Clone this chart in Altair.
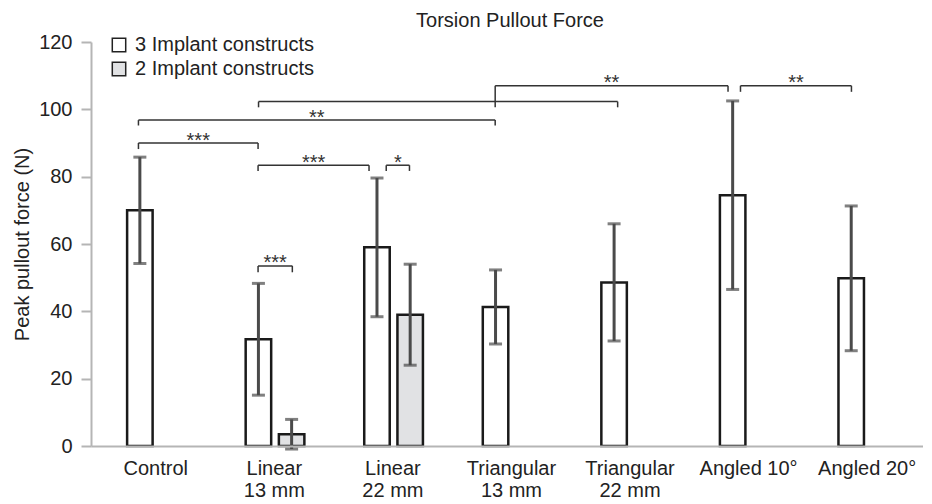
import json
import altair as alt
import pandas as pd

FONT = "Liberation Sans"

# ---------------- data ----------------
categories = ["Control", "Linear\n13 mm", "Linear\n22 mm", "Triangular\n13 mm",
              "Triangular\n22 mm", "Angled 10°", "Angled 20°"]
series_names = ["3 Implant constructs", "2 Implant constructs"]

three_mean = [70.0, 31.7, 59.0, 41.3, 48.6, 74.5, 49.8]
three_sd = [15.8, 16.6, 20.6, 11.0, 17.4, 28.0, 21.5]
two_mean = [None, 3.5, 39.0, None, None, None, None]
two_sd = [None, 4.4, 15.0, None, None, None, None]

# significance brackets (x in category units, y in N)
br_x1 = [0.358, 0.358, 1.371, 3.367, 5.436, 1.367, 2.448, 1.367]
br_x2 = [1.367, 3.367, 4.400, 5.331, 6.372, 2.303, 2.644, 1.656]
br_y = [90.0, 96.8, 102.3, 107.0, 107.0, 83.4, 83.4, 53.5]
br_left_end = [88.2, 95.2, 100.6, 100.6, 105.2, 81.7, 81.7, 51.6]
br_right_end = [88.2, 95.2, 100.6, 105.2, 105.2, 81.7, 81.7, 51.6]
br_label = ["***", "**", "", "**", "**", "***", "*", "***"]

# ---------------- table building ----------------
slot = {series_names[0]: -0.13, series_names[1]: 0.15}
rows = []
for i, c in enumerate(categories):
    for s, m, sd in ((series_names[0], three_mean[i], three_sd[i]),
                     (series_names[1], two_mean[i], two_sd[i])):
        if m is None:
            continue
        rows.append({"cat": c, "series": s, "x": i + 0.5 + slot[s],
                     "mean": m, "lo": m - sd, "hi": m + sd})
bars = pd.DataFrame(rows)

seg = []
for a, b, y, l, r in zip(br_x1, br_x2, br_y, br_left_end, br_right_end):
    seg.append({"x": a, "x2": b, "y": y, "y2": y})
    seg.append({"x": a, "x2": a, "y": y, "y2": l})
    seg.append({"x": b, "x2": b, "y": y, "y2": r})
segs = pd.DataFrame(seg)
labels = pd.DataFrame({"x": [(a + b) / 2 for a, b in zip(br_x1, br_x2)],
                       "y": br_y, "t": br_label})

label_expr = "split(" + json.dumps(categories) + "[floor(datum.value)], '\\n')"

PLOT_W = 832
STEP = 120  # pixels per category
xscale = alt.Scale(domain=[0, PLOT_W / STEP], nice=False, zero=False)
yscale = alt.Scale(domain=[0, 120], nice=False)

x_axis = alt.Axis(values=[i + 0.5 for i in range(len(categories))], labelExpr=label_expr,
                  ticks=False, grid=False, title=None, domainColor="#b5b5b5", domainWidth=2,
                  labelFontSize=20, labelFont=FONT, labelColor="#222222", labelPadding=12,
                  labelLineHeight=22, labelAngle=0, zindex=1)
y_axis = alt.Axis(values=list(range(0, 121, 20)), grid=False, title="Peak pullout force (N)",
                  domainColor="#b5b5b5", domainWidth=2, tickColor="#b5b5b5", tickWidth=2,
                  tickSize=10, labelFontSize=20, labelFont=FONT, labelColor="#222222",
                  labelPadding=9, titleFontSize=20, titleFont=FONT, titleFontWeight="normal",
                  titleColor="#222222", titlePadding=6, zindex=1)

bar_layer = alt.Chart(bars).mark_bar(size=25.5, stroke="#1a1a1a", strokeWidth=2.5).encode(
    x=alt.X("x:Q", scale=xscale, axis=x_axis),
    y=alt.Y("mean:Q", scale=yscale, axis=y_axis),
    fill=alt.Fill("series:N", scale=alt.Scale(domain=series_names, range=["#ffffff", "#e1e2e4"]),
                  legend=alt.Legend(title=None, orient="none", legendX=18, legendY=-7,
                                    symbolType="square", symbolSize=180, symbolStrokeColor="#222222",
                                    symbolStrokeWidth=1.5, labelFontSize=20, labelFont=FONT,
                                    labelColor="#222222", labelOffset=6, rowPadding=4, padding=0,
                                    labelLimit=400)),
)

err = alt.Chart(bars).mark_rule(color="#4a4a4a", strokeWidth=3).encode(
    x="x:Q", y="lo:Q", y2="hi:Q")
cap_lo = alt.Chart(bars).mark_tick(color="#4a4a4a", thickness=3, size=13, orient="horizontal").encode(
    x="x:Q", y="lo:Q")
cap_hi = alt.Chart(bars).mark_tick(color="#4a4a4a", thickness=3, size=13, orient="horizontal").encode(
    x="x:Q", y="hi:Q")

brackets = alt.Chart(segs).mark_rule(color="#333333", strokeWidth=1.5).encode(
    x="x:Q", x2="x2:Q", y="y:Q", y2="y2:Q")
stars = alt.Chart(labels).mark_text(fontSize=20, font=FONT, color="#333333",
                                    baseline="alphabetic", dy=3.5).encode(
    x="x:Q", y="y:Q", text="t:N")

chart = alt.layer(bar_layer, err, cap_lo, cap_hi, brackets, stars).properties(
    width=PLOT_W, height=404,
    padding={"left": 4, "top": 3, "right": 0, "bottom": 0},
    title=alt.TitleParams("Torsion Pullout Force", fontSize=20, font=FONT, fontWeight="normal",
                          color="#222222", anchor="middle", frame="group", offset=1, dx=3),
).configure_view(stroke=None)

chart.save("out.html", embed_options={"renderer": "svg", "actions": False})
